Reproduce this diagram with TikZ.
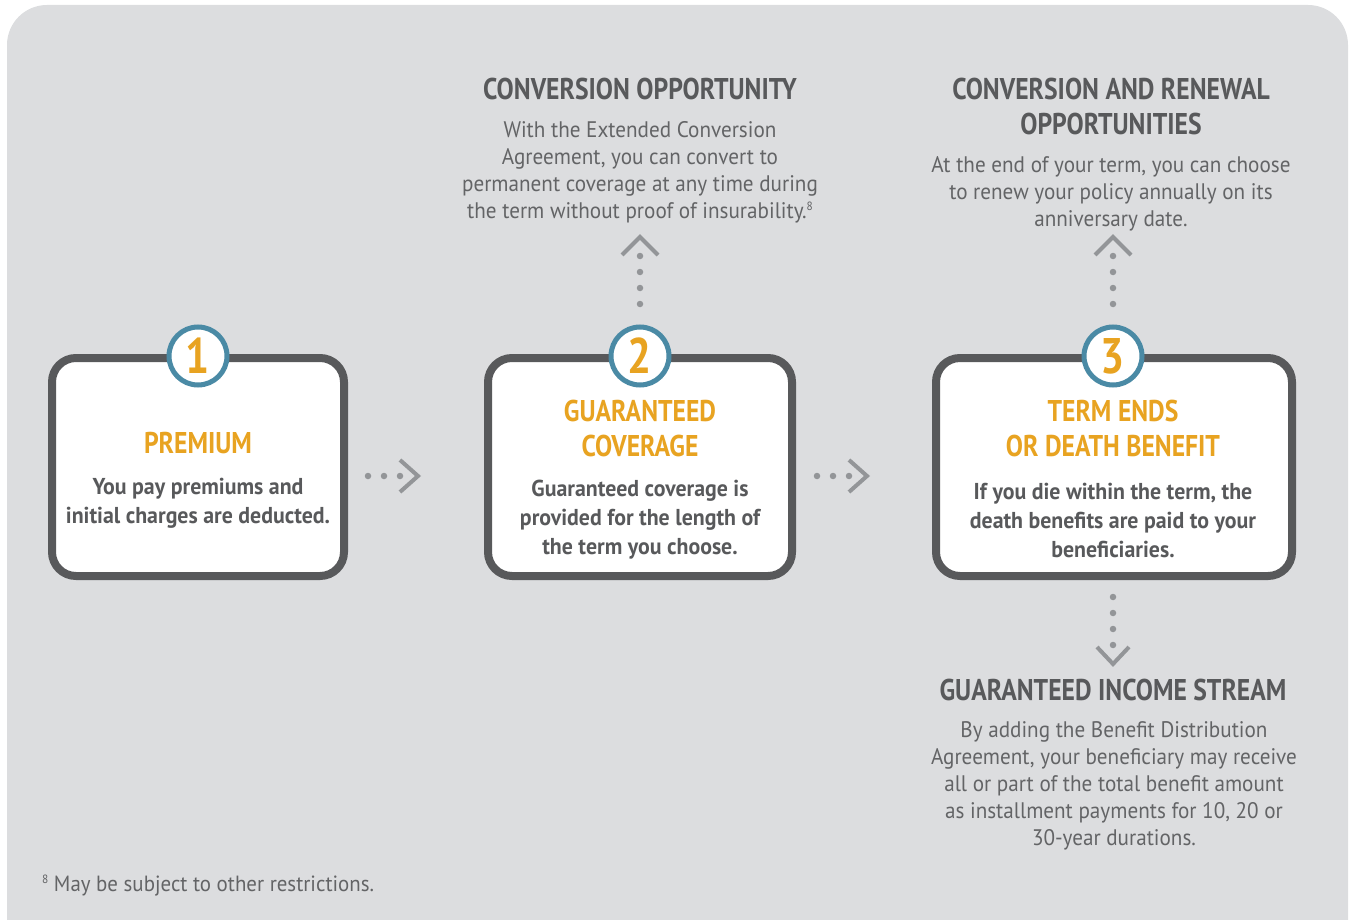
\documentclass[tikz,border=0pt]{standalone}
\usepackage{fontspec}
\usetikzlibrary{calc}
\setmainfont{PT Sans}
\newfontfamily\headfont[FakeStretch=0.855]{PT Sans Bold}
\newfontfamily\bodyfont[FakeStretch=0.94]{PT Sans}
\newfontfamily\boxbodyfont[FakeStretch=0.95]{PT Sans Bold}
\newfontfamily\footfont[FakeStretch=0.95]{PT Sans}
\newfontfamily\numfont[FakeStretch=0.85]{PT Sans Bold}

\definecolor{panelbg}{HTML}{DCDDDF}
\definecolor{framegray}{HTML}{58595B}
\definecolor{textgray}{HTML}{636466}
\definecolor{accent}{HTML}{E8A321}
\definecolor{ringteal}{HTML}{4A8AA5}
\definecolor{arrowgray}{HTML}{939598}

\tikzset{
  stepbox/.style={draw=framegray, line width=8, fill=white, rounded corners=24,
    inner sep=0pt},
  badge/.style={circle, draw=ringteal, line width=5, fill=white,
    minimum size=58, inner sep=0pt, text=accent,
    font=\numfont\fontsize{50}{50}\selectfont},
  heading/.style={align=center, text=framegray, inner sep=0pt,
    font=\headfont\fontsize{30}{35}\selectfont},
  boxhead/.style={align=center, text=accent, inner sep=0pt,
    font=\headfont\fontsize{30}{35}\selectfont},
  boxtext/.style={align=center, text=framegray, inner sep=0pt,
    font=\boxbodyfont\fontsize{23}{29}\selectfont},
  note/.style={align=center, text=textgray, inner sep=0pt,
    font=\bodyfont\fontsize{22.5}{27}\selectfont},
  dotline/.style={draw=arrowgray, line width=6.5, line cap=round,
    dash pattern=on 0pt off 16},
  chevron/.style={draw=arrowgray, line width=4, line cap=butt, line join=miter},
}

\begin{document}
\begin{tikzpicture}[x=1pt, y=-1pt]
\useasboundingbox (0,0) rectangle (1349,920);

% panel
\fill[panelbg, rounded corners=40] (7,5) rectangle (1348,960);

% step boxes
\node[stepbox, minimum width=292, minimum height=218] (b1) at (198,467) {};
\node[stepbox, minimum width=304, minimum height=218] (b2) at (640,467) {};
\node[stepbox, minimum width=356, minimum height=218] (b3) at (1114,467) {};

% numbered badges
\node[badge] (n1) at (198,356) {1};
\node[badge] (n2) at (640,356) {2};
\node[badge] (n3) at (1113,356) {3};

% box contents
\node[boxhead] (h1) at (198,443) {PREMIUM};
\node[boxtext] (t1) at (198,503) {You pay premiums and\\initial charges are deducted.};

\node[boxhead] (h2) at (640,428.5) {GUARANTEED\\COVERAGE};
\node[boxtext] (t2) at (640,520) {Guaranteed coverage is\\provided for the length of\\the term you choose.};

\node[boxhead] (h3) at (1113,428.5) {TERM ENDS\\OR DEATH BENEFIT};
\node[boxtext] (t3) at (1113,520) {If you die within the term, the\\death benefits are paid to your\\beneficiaries.};

% side notes
\node[heading] (c1) at (640,89) {CONVERSION OPPORTUNITY};
\node[note] (d1) at (640,172.5) {With the Extended Conversion\\Agreement, you can convert to\\permanent coverage at any time during\\the term without proof of insurability.\raisebox{0.75ex}{\fontsize{12}{12}\selectfont 8}};

\node[heading] (c2) at (1111,106.5) {CONVERSION AND RENEWAL\\OPPORTUNITIES};
\node[note] (d2) at (1111,194) {At the end of your term, you can choose\\to renew your policy annually on its\\anniversary date.};

\node[heading] (c3) at (1113,690) {GUARANTEED INCOME STREAM};
\node[note] (d3) at (1114,786) {By adding the Benefit Distribution\\Agreement, your beneficiary may receive\\all or part of the total benefit amount\\as installment payments for 10, 20 or\\30-year durations.};

% footnote
\node[anchor=base west, inner sep=0pt, text=textgray,
  font=\footfont\fontsize{22}{25}\selectfont] (fn) at (42,891)
  {\raisebox{0.7ex}{\fontsize{12}{12}\selectfont 8} May be subject to other restrictions.};

% connector end points (dotted runs overshoot slightly so the last dot is kept)
\coordinate (r1s) at (368,476);  \coordinate (r1e) at (401,476);  \coordinate (r1t) at (418,476);
\coordinate (r2s) at (817,476);  \coordinate (r2e) at (850,476);  \coordinate (r2t) at (867,476);
\coordinate (u2s) at (640,304);  \coordinate (u2e) at (640,255);  \coordinate (u2t) at (640,237);
\coordinate (u3s) at (1113,304); \coordinate (u3e) at (1113,255); \coordinate (u3t) at (1113,237);
\coordinate (dns) at (1113,597); \coordinate (dne) at (1113,646); \coordinate (dnt) at (1113,664);

% dotted connectors with open chevron heads
\draw[dotline] (r1s) -- (r1e);
\draw[chevron] ($(r1t)+(-18,-16)$) -- (r1t) -- ($(r1t)+(-18,16)$);
\draw[dotline] (r2s) -- (r2e);
\draw[chevron] ($(r2t)+(-18,-16)$) -- (r2t) -- ($(r2t)+(-18,16)$);
\draw[dotline] (u2s) -- (u2e);
\draw[chevron] ($(u2t)+(-18,18)$) -- (u2t) -- ($(u2t)+(18,18)$);
\draw[dotline] (u3s) -- (u3e);
\draw[chevron] ($(u3t)+(-18,18)$) -- (u3t) -- ($(u3t)+(18,18)$);
\draw[dotline] (dns) -- (dne);
\draw[chevron] ($(dnt)+(-16,-17)$) -- (dnt) -- ($(dnt)+(16,-17)$);
\end{tikzpicture}
\end{document}
